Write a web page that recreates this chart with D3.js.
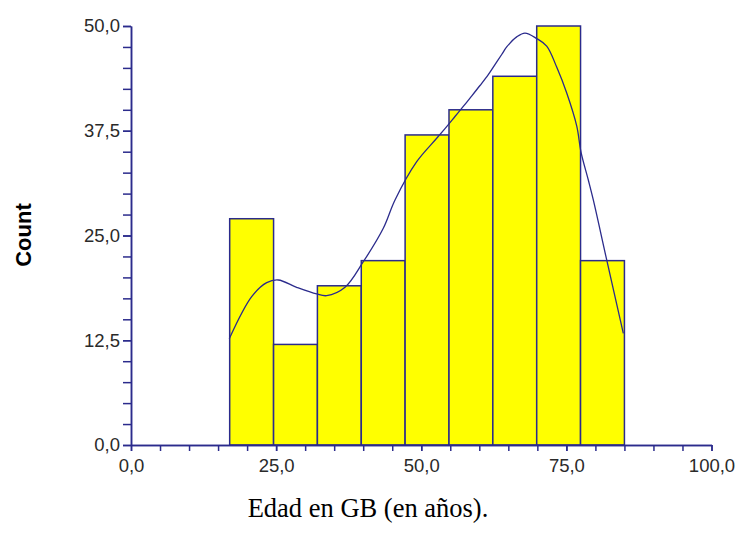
<!DOCTYPE html>
<html>
<head>
<meta charset="utf-8">
<script src="https://cdn.jsdelivr.net/npm/d3@7"></script>
<style>
  html, body { margin: 0; padding: 0; background: #ffffff; }
  svg { display: block; }
</style>
</head>
<body>
<svg id="chart" width="739" height="534"></svg>
<script>
// Histogram bins (edges in years) and counts per bin
const binEdges = [17, 24.56, 32.11, 39.67, 47.22, 54.78, 62.33, 69.89, 77.44, 85];
const binCounts = [27, 12, 19, 22, 37, 40, 44, 50, 22];

// Smoothed density curve, expressed on the count scale
const curveAge = [16.93, 20.79, 23.38, 25.37, 28.54, 31.99, 33.71, 36.87, 40.02, 43.46, 45.48,
  49.22, 52.66, 54.38, 55.81, 57.24, 58.40, 60.12, 61.55, 62.70, 63.86, 64.72, 66.44, 67.87,
  69.89, 71.61, 73.33, 75.06, 76.78, 77.52, 78.78, 79.64, 81.95, 84.81];
const curveCount = [12.68, 17.70, 19.37, 19.69, 18.82, 18.02, 17.82, 18.82, 21.87, 25.86, 29.24,
  33.81, 36.60, 38.00, 39.20, 40.40, 41.40, 42.90, 44.20, 45.40, 46.60, 47.50, 48.70, 49.16,
  48.50, 47.60, 45.10, 42.00, 38.07, 34.96, 31.62, 29.24, 22.08, 13.33];

// Axis ticks
const xMajorTicks = [0, 25, 50, 75, 100];
const xMinorTicks = d3.range(0, 100.01, 5);
const yMajorTicks = [0, 12.5, 25, 37.5, 50];
const yMinorTicks = d3.range(0, 50.01, 2.5);

const xLabel = "Edad en GB (en años).";
const yLabel = "Count";

const navy = "#2b2b8c";
const barFill = "#ffff00";

const svg = d3.select("#chart");

const x = d3.scaleLinear().domain([0, 100]).range([131, 711.5]);
const y = d3.scaleLinear().domain([0, 50]).range([445, 26]);

const es = d3.formatLocale({ decimal: ",", thousands: ".", grouping: [3], currency: ["", " €"] });
const fmt = es.format(".1f");

// Bars
const bars = binCounts.map((c, i) => ({ x0: binEdges[i], x1: binEdges[i + 1], count: c }));
svg.append("g")
  .selectAll("rect")
  .data(bars)
  .join("rect")
  .attr("x", d => x(d.x0))
  .attr("y", d => y(d.count))
  .attr("width", d => x(d.x1) - x(d.x0))
  .attr("height", d => y(0) - y(d.count))
  .attr("fill", barFill)
  .attr("stroke", navy)
  .attr("stroke-width", 1.5);

// Density curve
const line = d3.line()
  .x(d => x(d[0]))
  .y(d => y(d[1]))
  .curve(d3.curveCatmullRom.alpha(0.5));
svg.append("path")
  .datum(curveAge.map((a, i) => [a, curveCount[i]]))
  .attr("d", line)
  .attr("fill", "none")
  .attr("stroke", navy)
  .attr("stroke-width", 1.3);

// X axis: minor ticks, then major ticks with labels
const xAxisG = svg.append("g").attr("transform", `translate(0,${y(0)})`);
xAxisG.append("g")
  .call(d3.axisBottom(x).tickValues(xMinorTicks).tickSize(6).tickSizeOuter(0).tickFormat(""));
xAxisG.append("g")
  .call(d3.axisBottom(x).tickValues(xMajorTicks).tickSize(6).tickSizeOuter(0).tickFormat(fmt).tickPadding(8));

// Y axis
const yAxisG = svg.append("g").attr("transform", `translate(${x(0)},0)`);
yAxisG.append("g")
  .call(d3.axisLeft(y).tickValues(yMinorTicks).tickSize(8).tickSizeOuter(0).tickFormat(""));
yAxisG.append("g")
  .call(d3.axisLeft(y).tickValues(yMajorTicks).tickSize(8).tickSizeOuter(0).tickFormat(fmt).tickPadding(3));

svg.selectAll(".domain").attr("stroke", navy).attr("stroke-width", 1.5);
svg.selectAll(".tick line").attr("stroke", navy).attr("stroke-width", 1.5);
svg.selectAll(".tick text")
  .attr("fill", "#2a2a2a")
  .style("font-family", "'Liberation Sans', Arial, sans-serif")
  .style("font-size", "18.5px");

// Axis titles
svg.append("text")
  .attr("x", 368)
  .attr("y", 517)
  .attr("text-anchor", "middle")
  .style("font-family", "'Liberation Serif', 'Times New Roman', serif")
  .style("font-size", "26.5px")
  .attr("fill", "#000")
  .text(xLabel);

svg.append("text")
  .attr("transform", "translate(31,235) rotate(-90)")
  .attr("text-anchor", "middle")
  .style("font-family", "'Liberation Sans', Arial, sans-serif")
  .style("font-size", "22px")
  .style("font-weight", "bold")
  .attr("fill", "#000")
  .text(yLabel);
</script>
</body>
</html>
